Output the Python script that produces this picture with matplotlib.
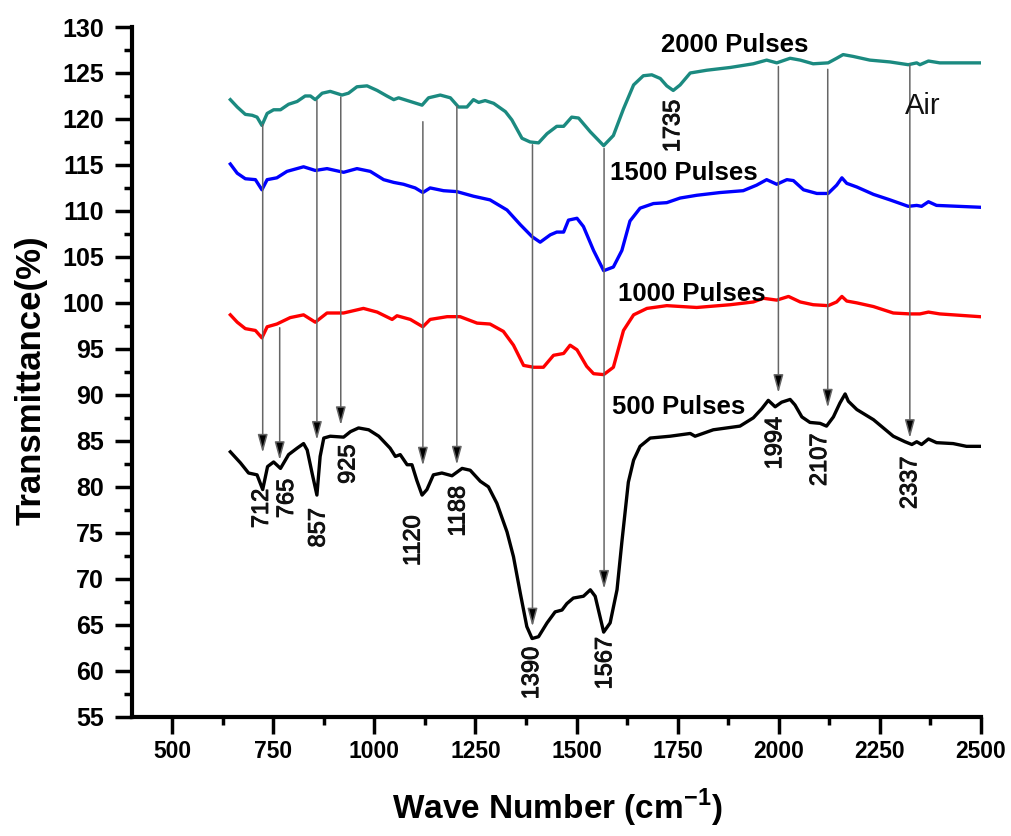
import matplotlib
matplotlib.use("Agg")
import matplotlib.pyplot as plt
import matplotlib.patheffects as pe

plt.rcParams['font.family'] = ['Liberation Sans', 'DejaVu Sans']
plt.rcParams['mathtext.fontset'] = 'custom'
plt.rcParams['mathtext.rm'] = 'Liberation Sans'
plt.rcParams['mathtext.bf'] = 'Liberation Sans:bold'

# 2000 pulses (teal)
x2000 = [644, 661, 681, 698, 710, 722, 735, 751, 768, 788, 809, 829, 842, 854, 871, 891, 920, 936,
         957, 982, 1007, 1031, 1048, 1060, 1089, 1118, 1134, 1163, 1188, 1208, 1229, 1245, 1258,
         1274, 1295, 1324, 1340, 1365, 1385, 1406, 1427, 1451, 1468, 1488, 1505, 1534, 1567, 1591,
         1616, 1641, 1665, 1686, 1707, 1723, 1739, 1756, 1781, 1822, 1880, 1937, 1970, 1995, 2028,
         2053, 2085, 2122, 2143, 2159, 2184, 2225, 2275, 2320, 2341, 2349, 2370, 2398, 2497]
y2000 = [122.1, 121.3, 120.5, 120.4, 120.2, 119.3, 120.6, 121.0, 121.0, 121.6, 121.9, 122.5, 122.5,
         122.1, 122.8, 123.0, 122.6, 122.8, 123.5, 123.6, 123.1, 122.5, 122.1, 122.3, 121.9, 121.5,
         122.3, 122.6, 122.3, 121.3, 121.3, 122.1, 121.8, 122.0, 121.7, 120.8, 119.9, 117.9, 117.5,
         117.4, 118.4, 119.2, 119.2, 120.2, 120.1, 118.6, 117.1, 118.2, 121.1, 123.7, 124.7, 124.8,
         124.4, 123.6, 123.1, 123.7, 125.0, 125.3, 125.6, 126.0, 126.4, 126.1, 126.6, 126.4, 126.0,
         126.1, 126.6, 127.0, 126.8, 126.4, 126.2, 125.9, 126.1, 125.9, 126.3, 126.1, 126.1]

# 1500 pulses (blue)
x1500 = [644, 661, 681, 706, 722, 735, 759, 784, 825, 854, 883, 924, 957, 990, 1023, 1048, 1072,
         1101, 1120, 1138, 1171, 1204, 1245, 1286, 1328, 1361, 1390, 1410, 1435, 1451, 1468, 1480,
         1501, 1517, 1542, 1567, 1591, 1612, 1632, 1657, 1690, 1723, 1756, 1797, 1855, 1912, 1945,
         1970, 1995, 2020, 2036, 2061, 2094, 2122, 2143, 2156, 2168, 2193, 2234, 2275, 2320, 2341,
         2353, 2370, 2390, 2497]
y1500 = [115.1, 114.1, 113.5, 113.4, 112.3, 113.4, 113.6, 114.3, 114.8, 114.4, 114.6, 114.2, 114.6,
         114.3, 113.4, 113.1, 112.9, 112.5, 112.0, 112.5, 112.2, 112.1, 111.6, 111.2, 110.1, 108.5,
         107.2, 106.6, 107.4, 107.7, 107.7, 109.0, 109.2, 108.3, 105.7, 103.5, 103.9, 105.7, 108.9,
         110.3, 110.8, 110.9, 111.4, 111.7, 112.0, 112.2, 112.8, 113.4, 112.9, 113.4, 113.3, 112.3,
         111.9, 111.9, 112.8, 113.6, 113.0, 112.6, 111.8, 111.2, 110.5, 110.6, 110.5, 111.0, 110.6,
         110.4]

# 1000 pulses (red)
x1000 = [644, 661, 681, 706, 722, 735, 759, 792, 825, 854, 883, 924, 973, 1007, 1044, 1056, 1089,
         1120, 1138, 1180, 1212, 1254, 1286, 1319, 1344, 1369, 1394, 1418, 1443, 1468, 1484, 1501,
         1525, 1542, 1567, 1591, 1616, 1641, 1674, 1723, 1797, 1880, 1937, 1962, 1995, 2024, 2053,
         2085, 2122, 2143, 2156, 2168, 2193, 2234, 2283, 2324, 2349, 2370, 2398, 2497]
y1000 = [98.7, 97.9, 97.2, 97.0, 96.2, 97.4, 97.7, 98.4, 98.7, 97.9, 98.9, 98.9, 99.4, 99.0, 98.2,
         98.6, 98.2, 97.4, 98.2, 98.5, 98.5, 97.8, 97.7, 96.9, 95.4, 93.2, 93.0, 93.0, 94.3, 94.5,
         95.4, 94.9, 93.1, 92.3, 92.2, 93.0, 97.0, 98.7, 99.4, 99.7, 99.5, 99.8, 100.1, 100.5, 100.3,
         100.7, 100.1, 99.8, 99.7, 100.1, 100.7, 100.2, 100.0, 99.6, 98.9, 98.8, 98.8, 99.0, 98.8,
         98.5]

# 500 pulses (black)
x500 = [644, 669, 689, 710, 724, 736, 751, 768, 788, 809, 825, 834, 846, 858, 866, 875, 891, 924,
        941, 961, 986, 1011, 1039, 1052, 1064, 1081, 1093, 1105, 1118, 1130, 1146, 1167, 1192, 1217,
        1237, 1262, 1282, 1303, 1328, 1344, 1361, 1377, 1390, 1406, 1427, 1447, 1464, 1476, 1492,
        1517, 1534, 1546, 1567, 1583, 1600, 1612, 1628, 1641, 1657, 1682, 1731, 1781, 1793, 1838,
        1904, 1937, 1958, 1974, 1991, 2007, 2028, 2040, 2057, 2077, 2102, 2118, 2135, 2151, 2164,
        2172, 2193, 2234, 2283, 2312, 2329, 2341, 2353, 2370, 2390, 2431, 2464, 2497]
y500 = [83.8, 82.6, 81.5, 81.3, 79.7, 82.2, 82.7, 82.0, 83.5, 84.2, 84.7, 84.0, 81.5, 79.1, 83.3,
        85.3, 85.5, 85.4, 86.0, 86.4, 86.2, 85.5, 84.2, 83.3, 83.5, 82.4, 82.4, 80.7, 79.1, 79.7,
        81.3, 81.5, 81.2, 82.0, 81.8, 80.6, 80.0, 78.2, 75.1, 72.4, 68.4, 64.8, 63.5, 63.7, 65.2,
        66.4, 66.6, 67.3, 67.9, 68.1, 68.8, 68.1, 64.2, 65.2, 68.8, 74.0, 80.5, 82.9, 84.4, 85.3,
        85.5, 85.8, 85.5, 86.2, 86.6, 87.5, 88.5, 89.4, 88.7, 89.2, 89.5, 88.9, 87.6, 87.0, 86.9,
        86.6, 87.6, 89.1, 90.1, 89.3, 88.4, 87.3, 85.5, 84.9, 84.6, 84.9, 84.6, 85.2, 84.8, 84.7,
        84.4, 84.4]

series_labels = ['2000 Pulses', '1500 Pulses', '1000 Pulses', '500 Pulses']

# peak annotations: label, arrow x, arrow start y, arrow tip y, label x, label top y
peak_text = ['712', '765', '857', '925', '1120', '1188', '1390', '1567', '1994', '2107', '2337']
arrow_x = [724, 766, 858, 917, 1120, 1204, 1391, 1568, 1999, 2121, 2324]
arrow_y0 = [119.4, 97.3, 122.0, 122.4, 119.7, 121.4, 117.2, 116.8, 125.7, 125.4, 125.9]
arrow_y1 = [83.7, 82.9, 85.1, 86.7, 82.3, 82.4, 64.8, 68.9, 90.2, 88.6, 85.3]
label_x = [722, 784, 862, 936, 1097, 1208, 1390, 1571, 1991, 2102, 2325]
label_y = [79.8, 80.9, 77.7, 84.6, 76.9, 80.1, 62.6, 63.7, 87.6, 85.8, 83.3]

fig = plt.figure(figsize=(10.12, 8.36), dpi=100)
ax = fig.add_axes([0.1301, 0.1427, 0.8393, 0.825])

ax.plot(x2000, y2000, color='#1b8a80', lw=2.4)
ax.plot(x1500, y1500, color='#0000ff', lw=2.4)
ax.plot(x1000, y1000, color='#ff0000', lw=2.4)
ax.plot(x500, y500, color='black', lw=2.4)

semi = [pe.withStroke(linewidth=0.7, foreground='#111111')]
for i in range(len(peak_text)):
    ax.annotate('', xy=(arrow_x[i], arrow_y1[i]), xytext=(arrow_x[i], arrow_y0[i]),
                arrowprops=dict(arrowstyle='-|>,head_length=1.1,head_width=0.3',
                                mutation_scale=10, ec='0.4', fc='black', lw=1.1,
                                shrinkA=0, shrinkB=0))
    ax.text(label_x[i], label_y[i], peak_text[i], rotation=90, ha='center', va='top',
            fontsize=17, color='#111111', path_effects=semi)

ax.text(1739, 122.1, '1735', rotation=90, ha='center', va='top', fontsize=17, color='#111111',
        path_effects=semi)
ax.text(2357, 121.4, 'Air', ha='center', va='center', fontsize=21, color='#111111')

ax.text(1892, 128.0, series_labels[0], ha='center', va='center', fontsize=18.5, fontweight='bold')
ax.text(1766, 114.1, series_labels[1], ha='center', va='center', fontsize=18.5, fontweight='bold')
ax.text(1784, 101.0, series_labels[2], ha='center', va='center', fontsize=18.5, fontweight='bold')
ax.text(1752, 88.7, series_labels[3], ha='center', va='center', fontsize=18.5, fontweight='bold')

ax.set_xlim(400, 2500)
ax.set_ylim(55, 130)
ax.set_xticks(range(500, 2501, 250))
ax.set_xticks(range(625, 2500, 250), minor=True)
ax.set_yticks(range(55, 131, 5))
ax.set_yticks([v + 2.5 for v in range(55, 130, 5)], minor=True)

ax.spines['top'].set_visible(False)
ax.spines['right'].set_visible(False)
ax.spines['left'].set_linewidth(3)
ax.spines['bottom'].set_linewidth(3)
ax.tick_params(which='major', direction='out', length=12, width=2.5, pad=5)
ax.tick_params(which='minor', direction='out', length=6, width=2.5)
ax.tick_params(axis='y', which='major', pad=8)
for lab in ax.get_xticklabels():
    lab.set_fontsize(16.5)
    lab.set_fontweight('bold')
for lab in ax.get_yticklabels():
    lab.set_fontsize(18)
    lab.set_fontweight('bold')

fig.text(31 / 1012, 1 - 380 / 836, 'Transmittance(%)', rotation=90, ha='center', va='center',
         fontsize=25, fontweight='bold')
fig.text(557 / 1012, 1 - 808 / 836, r'Wave Number (cm$^{\mathbf{-1}}$)', ha='center', va='center',
         fontsize=24, fontweight='bold')

fig.savefig('out.png', dpi=100)
